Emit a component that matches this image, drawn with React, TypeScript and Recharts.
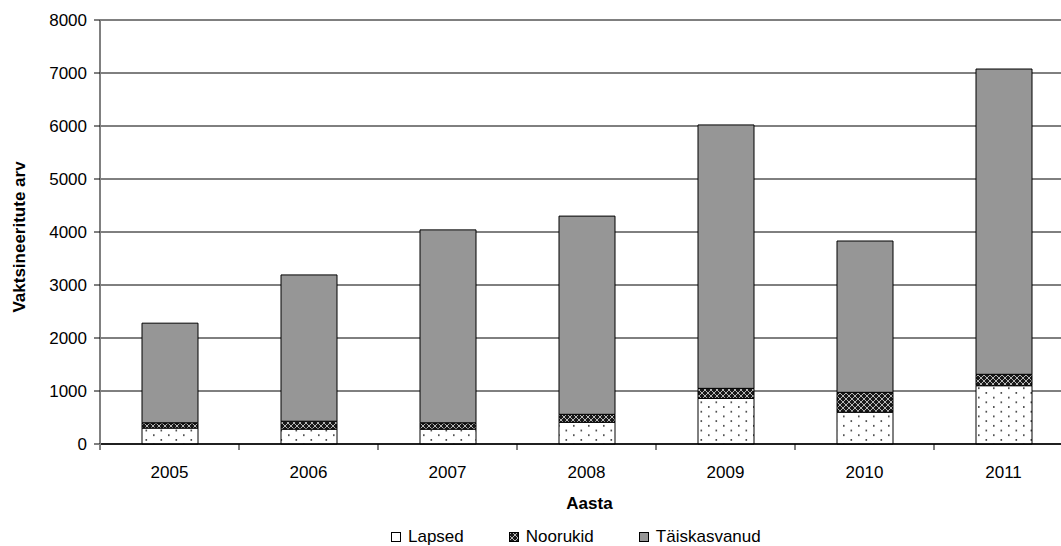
import { BarChart, Bar, XAxis, YAxis, CartesianGrid } from "recharts"

const years = ["2005", "2006", "2007", "2008", "2009", "2010", "2011"]
const lapsed = [300, 280, 280, 410, 860, 600, 1100]
const noorukid = [100, 150, 120, 150, 190, 375, 215]
const taiskasvanud = [1880, 2760, 3640, 3740, 4970, 2855, 5760]
const yTicks = [0, 1000, 2000, 3000, 4000, 5000, 6000, 7000, 8000]

const seriesNames = ["Lapsed", "Noorukid", "Täiskasvanud"]
const seriesFills = ["url(#dotsFill)", "url(#latticeFill)", "#969696"]

const data = years.map((year, i) => ({
  year,
  lapsed: lapsed[i],
  noorukid: noorukid[i],
  taiskasvanud: taiskasvanud[i],
}))

const FONT = '"Liberation Sans", Arial, sans-serif'

// category label plus Excel-style tick marks on the category boundaries
const YearTick = (props: any) => {
  const { x, y, payload, index } = props
  const half = payload?.offset || 69.5
  const axisY = y - 22
  return (
    <g>
      <line x1={x + half} x2={x + half} y1={axisY} y2={axisY + 6} stroke="#000" />
      {index === 0 && (
        <line x1={x - half} x2={x - half} y1={axisY} y2={axisY + 6} stroke="#808080" strokeWidth={2} />
      )}
      <text x={x} y={y} dy="0.71em" textAnchor="middle" fontSize={17} fill="#000" fontFamily={FONT}>
        {payload.value}
      </text>
    </g>
  )
}

const LegendIcon = ({ fill }: { fill: string }) => (
  <svg width={10} height={10} style={{ marginRight: 7, display: "block" }}>
    <rect x={0.5} y={0.5} width={9} height={9} fill={fill} stroke="#000" strokeWidth={1} />
  </svg>
)

export default function App() {
  return (
    <div
      style={{
        position: "absolute",
        left: 0,
        top: 0,
        width: 1061,
        height: 546,
        overflow: "hidden",
        background: "#fff",
        fontFamily: FONT,
      }}
    >
      <BarChart
        width={1073}
        height={546}
        data={data}
        margin={{ top: 20, right: 0, bottom: 0, left: 0 }}
        barSize={56}
      >
        <defs>
          <pattern id="dotsFill" width={15} height={9.4} patternUnits="userSpaceOnUse">
            <rect width={15} height={9.4} fill="#fff" />
            <rect x={3} y={2} width={1.6} height={1.6} fill="#333" />
            <rect x={10.5} y={6.7} width={1.6} height={1.6} fill="#333" />
          </pattern>
          <pattern id="latticeFill" width={6} height={6} patternUnits="userSpaceOnUse">
            <rect width={6} height={6} fill="#1a1a1a" />
            <path d="M0 3 L3 0 L6 3 L3 6 Z" fill="none" stroke="#c8c8c8" strokeWidth={0.9} />
          </pattern>
        </defs>
        <CartesianGrid vertical={false} stroke="#000" strokeWidth={1} />
        <XAxis
          dataKey="year"
          height={102}
          axisLine={{ stroke: "#000", strokeWidth: 1.5 }}
          tickLine={false}
          tickSize={0}
          tickMargin={22}
          tick={<YearTick />}
          interval={0}
          label={{
            value: "Aasta",
            content: (p: any) => {
              const vb = p.viewBox
              return (
                <text
                  x={vb.x + vb.width / 2 + 3}
                  y={509}
                  textAnchor="middle"
                  fontSize={17}
                  fontWeight="bold"
                  fill="#000"
                  fontFamily={FONT}
                >
                  Aasta
                </text>
              )
            },
          }}
        />
        <YAxis
          width={100}
          domain={[0, 8000]}
          ticks={yTicks}
          interval={0}
          axisLine={{ stroke: "#808080", strokeWidth: 2 }}
          tickLine={{ stroke: "#000" }}
          tickSize={6}
          tickMargin={7}
          tick={{ fontSize: 17, fill: "#000", fontFamily: FONT }}
          label={{
            value: "Vaktsineeritute arv",
            content: (p: any) => {
              const vb = p.viewBox
              const cx = 19
              const cy = vb.y + vb.height / 2 + 5
              return (
                <text
                  x={cx}
                  y={cy}
                  textAnchor="middle"
                  dominantBaseline="central"
                  transform={`rotate(-90, ${cx}, ${cy})`}
                  fontSize={17}
                  fontWeight="bold"
                  fill="#000"
                  fontFamily={FONT}
                >
                  Vaktsineeritute arv
                </text>
              )
            },
          }}
        />
        <Bar dataKey="lapsed" name="Lapsed" stackId="a" fill={seriesFills[0]} stroke="#000" strokeWidth={1} isAnimationActive={false} />
        <Bar dataKey="noorukid" name="Noorukid" stackId="a" fill={seriesFills[1]} stroke="#000" strokeWidth={1} isAnimationActive={false} />
        <Bar dataKey="taiskasvanud" name="Täiskasvanud" stackId="a" fill={seriesFills[2]} stroke="#000" strokeWidth={1} isAnimationActive={false} />
      </BarChart>

      {/* Legend */}
      <div
        style={{
          position: "absolute",
          left: 391,
          top: 527,
          display: "flex",
          alignItems: "center",
          gap: 45,
          fontSize: 17,
          lineHeight: "20px",
          color: "#000",
        }}
      >
        {seriesNames.map((name, i) => (
          <div key={name} style={{ display: "flex", alignItems: "center" }}>
            <LegendIcon fill={i === 0 ? "#fff" : seriesFills[i]} />
            <span>{name}</span>
          </div>
        ))}
      </div>
    </div>
  )
}
